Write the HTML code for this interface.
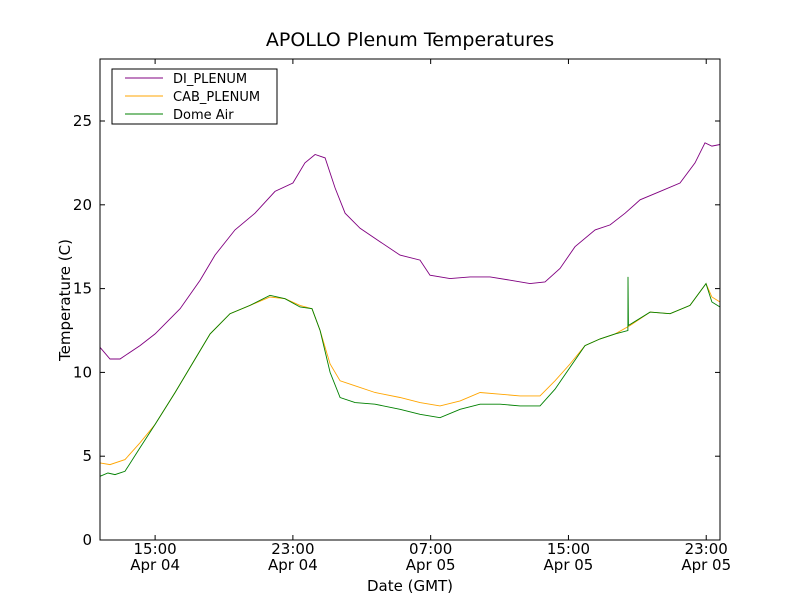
<!DOCTYPE html>
<html><head><meta charset="utf-8"><style>
body{margin:0;background:#fff;}
svg{display:block;font-family:"DejaVu Sans","Liberation Sans",sans-serif;}
</style></head><body>
<svg id="chart" width="800" height="600">
<rect x="0" y="0" width="800" height="600" fill="#fff"/>
<text x="410" y="46" font-size="19" text-anchor="middle">APOLLO Plenum Temperatures</text>
<g id="plot"></g>
<rect x="100" y="59" width="620" height="481" fill="none" stroke="#000" stroke-width="1"/>
<text x="410" y="591" font-size="15" text-anchor="middle">Date (GMT)</text>
<text transform="translate(70,300) rotate(-90)" font-size="15" text-anchor="middle">Temperature (C)</text>
<g>
<rect x="112" y="69" width="165" height="55" fill="#fff" stroke="#000"/>
<line x1="125" y1="78" x2="163" y2="78" stroke="#800080"/>
<text x="173" y="83" font-size="13">DI_PLENUM</text>
<line x1="125" y1="96" x2="163" y2="96" stroke="#ffa500"/>
<text x="173" y="101" font-size="13">CAB_PLENUM</text>
<line x1="125" y1="114" x2="163" y2="114" stroke="#008000"/>
<text x="173" y="119" font-size="13">Dome Air</text>
</g>
</svg>
<script>
const diTimes=[11.8,12.38,12.96,14.12,15.0,16.45,17.61,18.48,19.64,20.8,21.96,23.0,23.7,24.29,24.87,25.45,26.03,26.9,28.06,29.22,30.38,30.96,32.12,33.29,34.45,35.61,36.77,37.64,38.51,39.38,40.55,41.42,42.29,43.16,44.32,45.48,46.35,46.93,47.33,47.8];
const diValues=[11.5,10.8,10.8,11.6,12.3,13.8,15.5,17,18.5,19.5,20.8,21.3,22.5,23,22.8,21,19.5,18.6,17.8,17,16.7,15.8,15.6,15.7,15.7,15.5,15.3,15.4,16.2,17.5,18.5,18.8,19.5,20.3,20.8,21.3,22.5,23.7,23.5,23.6];
const cabTimes=[11.8,12.38,13.25,14.12,15.0,16.16,17.32,18.19,19.35,20.51,21.67,22.54,23.41,24.11,24.58,25.16,25.74,26.61,27.77,29.22,30.38,31.54,32.71,33.87,35.03,36.19,37.35,38.22,39.09,39.96,40.84,41.71,42.58,43.74,44.9,46.06,46.99,47.33,47.8];
const cabValues=[4.6,4.5,4.8,5.8,6.9,8.8,10.8,12.3,13.5,14,14.5,14.4,14,13.8,12.5,10.5,9.5,9.2,8.8,8.5,8.2,8,8.3,8.8,8.7,8.6,8.6,9.5,10.5,11.6,12,12.3,12.8,13.6,13.5,14,15.3,14.5,14.2];
const domeTimes=[11.8,12.26,12.67,13.25,14.12,15.0,16.16,17.32,18.19,19.35,20.51,21.67,22.54,23.41,24.11,24.58,25.16,25.74,26.61,27.77,29.22,30.38,31.54,32.71,33.87,35.03,36.19,37.35,38.22,39.09,39.96,40.84,41.71,42.45,42.46,42.48,43.74,44.9,46.06,46.99,47.33,47.8];
const domeValues=[3.8,4.0,3.9,4.1,5.5,6.9,8.8,10.8,12.3,13.5,14,14.6,14.4,13.9,13.8,12.5,10,8.5,8.2,8.1,7.8,7.5,7.3,7.8,8.1,8.1,8.0,8.0,9,10.3,11.6,12,12.3,12.5,15.7,12.8,13.6,13.5,14,15.3,14.2,13.9];
const yTicks=[0,5,10,15,20,25];
const xTickHours=[15,23,31,39,47];
const xTickTimes=["15:00","23:00","07:00","15:00","23:00"];
const xTickDates=["Apr 04","Apr 04","Apr 05","Apr 05","Apr 05"];
const X0=100,X1=720,Y0=540,Y1=59,XMIN=11.8,XMAX=47.8,YMIN=0,YMAX=28.7;
const xs=h=>X0+(h-XMIN)/(XMAX-XMIN)*(X1-X0);
const ys=v=>Y0-(v-YMIN)/(YMAX-YMIN)*(Y0-Y1);
const NS="http://www.w3.org/2000/svg";
const plot=document.getElementById('plot');
function mk(t,a){const e=document.createElementNS(NS,t);for(const k in a)e.setAttribute(k,a[k]);plot.appendChild(e);return e;}
function line(ts,vs,color,name){
  const p=mk('path',{d:ts.map((t,i)=>(i?'L':'M')+xs(t).toFixed(1)+','+ys(vs[i]).toFixed(1)).join(''),fill:'none',stroke:color,'stroke-width':0.9});
  
  
}
line(diTimes,diValues,'#800080','di-plenum-line');
line(cabTimes,cabValues,'#ffa500','cab-plenum-line');
line(domeTimes,domeValues,'#008000','dome-air-line');
yTicks.forEach(v=>{
  const y=ys(v);
  mk('line',{x1:X0,y1:y,x2:X0+5,y2:y,stroke:'#000'});
  mk('line',{x1:X1,y1:y,x2:X1-5,y2:y,stroke:'#000'});
  const t=mk('text',{x:X0-8,y:y+5,'font-size':15,'text-anchor':'end'});
  t.textContent=v;
  
  
});
xTickHours.forEach((h,i)=>{
  const x=xs(h);
  mk('line',{x1:x,y1:Y0,x2:x,y2:Y0-5,stroke:'#000'});
  mk('line',{x1:x,y1:Y1,x2:x,y2:Y1+5,stroke:'#000'});
  const t=mk('text',{x:x,y:554,'font-size':15,'text-anchor':'middle'});
  t.textContent=xTickTimes[i];
  
  
  const d=mk('text',{x:x,y:570,'font-size':15,'text-anchor':'middle'});
  d.textContent=xTickDates[i];
  
  
});
</script>
</body></html>
